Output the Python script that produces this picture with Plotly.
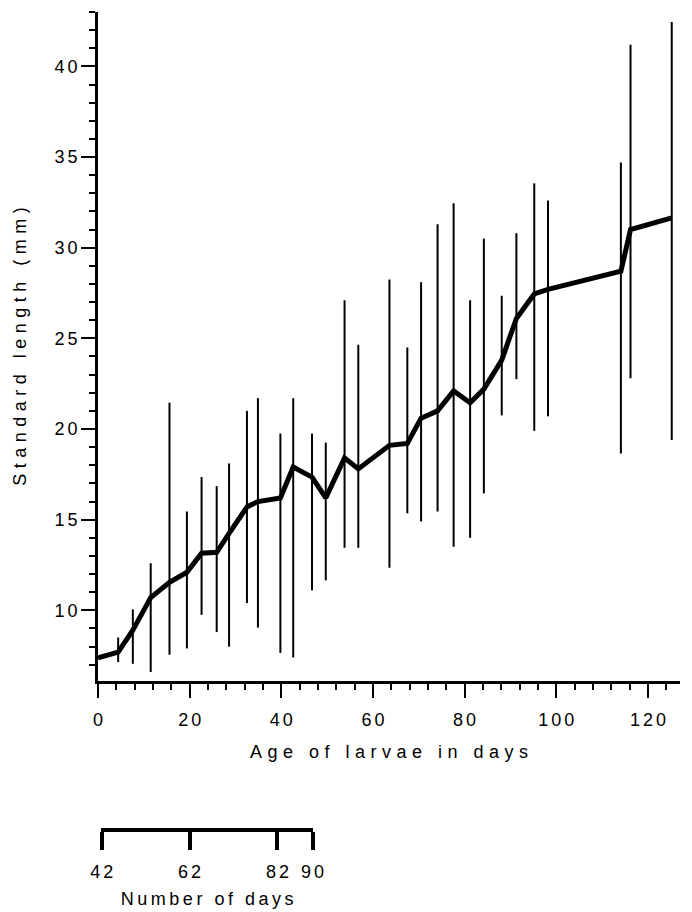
import plotly.graph_objects as go

# ---- data ----
age_days = [0, 4.4, 7.6, 11.5, 15.6, 19.4, 22.6, 25.9, 28.6, 32.5, 34.9, 39.8, 42.6, 46.7, 49.7,
            53.8, 56.8, 63.6, 67.5, 70.5, 74.1, 77.6, 81.2, 84.2, 88.1, 91.3, 95.2, 98.2,
            114.1, 116.2, 125.2]
mean_length = [7.38, 7.7, 8.9, 10.7, 11.55, 12.1, 13.15, 13.2, 14.25, 15.7, 16.0, 16.2, 17.9, 17.35, 16.2,
               18.4, 17.8, 19.1, 19.2, 20.6, 21.0, 22.1, 21.45, 22.2, 23.8, 26.1, 27.45, 27.7,
               28.7, 31.0, 31.65]
max_length = [7.38, 8.5, 10.05, 12.6, 21.45, 15.45, 17.35, 16.85, 18.1, 21.0, 21.7, 19.75, 21.7, 19.75, 19.25,
              27.1, 24.65, 28.25, 24.5, 28.1, 31.3, 32.45, 27.1, 30.5, 27.35, 30.8, 33.55, 32.6,
              34.7, 41.2, 42.45]
min_length = [7.38, 7.15, 7.05, 6.6, 7.55, 7.9, 9.75, 8.8, 8.0, 10.4, 9.05, 7.65, 7.4, 11.1, 11.65,
              13.45, 13.45, 12.35, 15.35, 14.9, 15.45, 13.5, 14.0, 16.45, 20.75, 22.75, 19.9, 20.7,
              18.65, 22.8, 19.4]

x_ticks = [0, 20, 40, 60, 80, 100, 120]
y_ticks = [10, 15, 20, 25, 30, 35, 40]
ruler_ticks = [42, 62, 82, 90]

FONT = "Liberation Sans"

err_plus = [h - m for h, m in zip(max_length, mean_length)]
err_minus = [m - l for m, l in zip(mean_length, min_length)]

fig = go.Figure()
fig.add_trace(go.Scatter(
    x=age_days, y=mean_length, mode="lines",
    line=dict(color="black", width=5),
    error_y=dict(type="data", symmetric=False, array=err_plus, arrayminus=err_minus,
                 width=0, thickness=2, color="black"),
    hoverinfo="skip", showlegend=False,
))
# invisible trace to host the "Number of days" ruler axis
fig.add_trace(go.Scatter(
    x=ruler_ticks, y=[0.5] * len(ruler_ticks), mode="markers",
    marker=dict(opacity=0), xaxis="x2", yaxis="y2",
    hoverinfo="skip", showlegend=False,
))

tickfont = dict(family=FONT, size=18, color="black")
titlefont = dict(family=FONT, size=18, color="black")

fig.update_layout(
    width=692, height=912,
    margin=dict(l=98, r=2, t=12, b=84),
    paper_bgcolor="white", plot_bgcolor="white",
    showlegend=False,
    xaxis=dict(
        domain=[0, 1], range=[0, 127], anchor="y",
        tickvals=x_ticks, ticks="outside", ticklen=14, tickwidth=2, tickcolor="black",
        showline=True, linewidth=2.5, linecolor="black",
        showgrid=False, zeroline=False,
        minor=dict(dtick=4, tick0=0, ticks="outside", ticklen=6, tickwidth=2, tickcolor="black",
                   showgrid=False),
        tickfont=tickfont, ticklabelstandoff=7,
        title=dict(text="Age of larvae in days", font=titlefont, standoff=17),
    ),
    yaxis=dict(
        domain=[0.1801, 1], range=[6.1, 43], anchor="x",
        tickvals=y_ticks, ticks="outside", ticklen=14, tickwidth=2, tickcolor="black",
        showline=True, linewidth=2.5, linecolor="black",
        showgrid=False, zeroline=False,
        minor=dict(dtick=1, tick0=0, ticks="outside", ticklen=6, tickwidth=2, tickcolor="black",
                   showgrid=False),
        tickfont=tickfont, ticklabelstandoff=0,
        title=dict(text="Standard length (mm)", font=titlefont, standoff=27),
    ),
    xaxis2=dict(
        domain=[0.0057, 0.3694], range=[41.9, 90.1], anchor="y2",
        tickvals=ruler_ticks, ticks="outside", ticklen=18, tickwidth=4, tickcolor="black",
        showline=True, linewidth=4, linecolor="black",
        showgrid=False, zeroline=False,
        tickfont=tickfont, ticklabelstandoff=6,
        title=dict(text="Number of days", font=titlefont, standoff=13),
    ),
    yaxis2=dict(domain=[0, 0.01], range=[0, 1], anchor="x2", visible=False),
)

post = """
var gd = document.getElementById('{plot_id}');
function sp(sel, s, dx) {
  gd.querySelectorAll(sel).forEach(function(t) {
    t.style.letterSpacing = s + 'px';
    if (dx) { t.setAttribute('dx', dx); }
  });
}
sp('.ytick text', 3, 3);
sp('.xtick text, .x2tick text', 3, 1.5);
sp('.g-xtitle text, .g-ytitle text', 5.5, 2.75);
sp('.g-x2title text', 3.5, 1.75);
"""

fig.write_html("out.html", post_script=post)
